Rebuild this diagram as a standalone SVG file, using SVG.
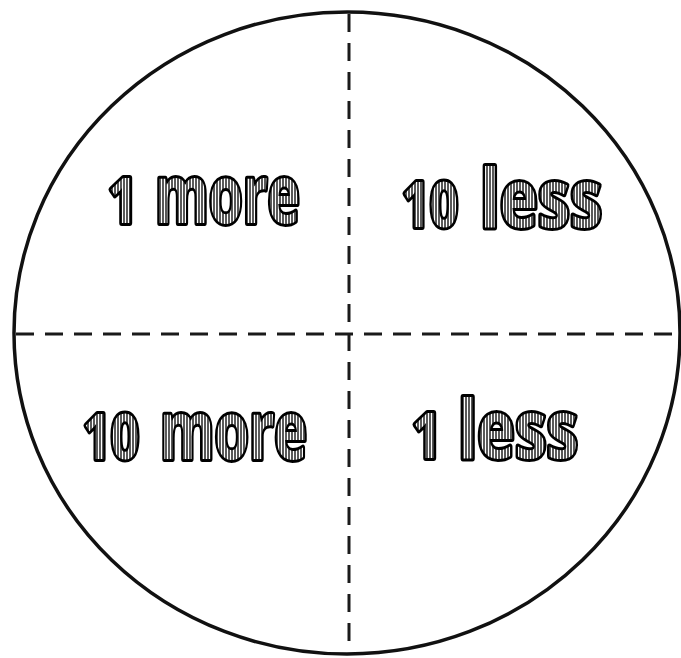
<svg xmlns="http://www.w3.org/2000/svg" width="681" height="658" viewBox="0 0 681 658">
  <defs>
    <pattern id="hatch" patternUnits="userSpaceOnUse" width="3" height="3">
      <rect width="3" height="3" fill="#ffffff"/>
      <line x1="1" y1="0" x2="1" y2="3" stroke="#000" stroke-width="1.3"/>
    </pattern>
  </defs>
  <style>
    .dash { stroke: #1a1a1a; stroke-width: 3; stroke-dasharray: 18 11; fill: none; }
    .rim { stroke: #111; stroke-width: 3.5; fill: #ffffff; }
    .lbl { font-family: "Open Sans", "Liberation Sans", sans-serif; font-weight: 700; fill: url(#hatch); stroke: #000; stroke-width: 6; paint-order: stroke; stroke-linejoin: round; }
    .word { font-size: 80px; }
    .num { font-size: 62px; }
  </style>
  <rect width="681" height="658" fill="#ffffff"/>
  <g id="circle">
    <ellipse class="rim" cx="347" cy="333" rx="333" ry="321"/>
  </g>
  <g id="connectors">
    <line class="dash" x1="349" y1="14" x2="349" y2="652"/>
    <line class="dash" x1="16" y1="334" x2="681" y2="334"/>
  </g>
  <g id="q1">
    <text class="lbl num" x="108" y="223" textLength="30" lengthAdjust="spacingAndGlyphs">1</text>
    <text class="lbl word" x="155" y="223" textLength="145" lengthAdjust="spacingAndGlyphs">more</text>
  </g>
  <g id="q2">
    <text class="lbl num" x="402" y="227" textLength="56" lengthAdjust="spacingAndGlyphs">10</text>
    <text class="lbl word" x="480" y="227" textLength="122" lengthAdjust="spacingAndGlyphs">less</text>
  </g>
  <g id="q3">
    <text class="lbl num" x="83" y="459" textLength="56" lengthAdjust="spacingAndGlyphs">10</text>
    <text class="lbl word" x="160" y="459" textLength="147" lengthAdjust="spacingAndGlyphs">more</text>
  </g>
  <g id="q4">
    <text class="lbl num" x="412" y="458" textLength="30" lengthAdjust="spacingAndGlyphs">1</text>
    <text class="lbl word" x="458" y="458" textLength="120" lengthAdjust="spacingAndGlyphs">less</text>
  </g>
</svg>
